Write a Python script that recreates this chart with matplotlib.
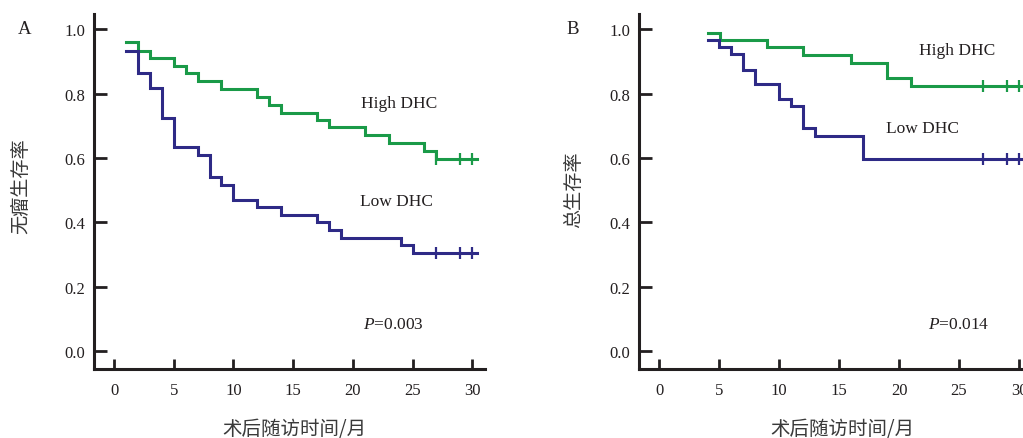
import matplotlib
matplotlib.use("Agg")
import matplotlib.pyplot as plt

plt.rcParams['font.family'] = ['Liberation Serif', 'Noto Sans CJK SC']
plt.rcParams['mathtext.fontset'] = 'custom'
plt.rcParams['mathtext.it'] = 'Liberation Serif:italic'
plt.rcParams['mathtext.rm'] = 'Liberation Serif'

GREEN = '#1a9a48'
BLUE = '#2e2a86'
INK = '#231f20'

# panel A: disease-free survival
a_high_t = [1, 2, 3, 5, 6, 7, 9, 12, 13, 14, 17, 18, 21, 23, 26, 27, 30.4]
a_high_s = [0.959, 0.933, 0.910, 0.886, 0.863, 0.839, 0.814, 0.790, 0.765,
            0.741, 0.718, 0.695, 0.671, 0.646, 0.622, 0.598, 0.598]
a_low_t = [1, 2, 3, 4, 5, 7, 8, 9, 10, 12, 14, 17, 18, 19, 24, 25, 30.4]
a_low_s = [0.933, 0.865, 0.818, 0.723, 0.634, 0.609, 0.542, 0.516, 0.470,
           0.448, 0.422, 0.400, 0.376, 0.352, 0.329, 0.306, 0.306]
a_censor = [27, 29, 30]

# panel B: overall survival
b_high_t = [4.1, 5.1, 9, 12, 16, 19, 21, 31]
b_high_s = [0.988, 0.966, 0.943, 0.920, 0.896, 0.847, 0.824, 0.824]
b_low_t = [4.1, 5, 6, 7, 8, 10, 11, 12, 13, 17, 31]
b_low_s = [0.967, 0.943, 0.922, 0.873, 0.829, 0.783, 0.760, 0.692, 0.667,
           0.598, 0.598]
b_censor = [27, 29, 30]

x_ticks = [0, 5, 10, 15, 20, 25, 30]
y_ticks = [0.0, 0.2, 0.4, 0.6, 0.8, 1.0]


def surv_at(t, times, surv):
    """value of the step curve at time t"""
    val = surv[0]
    for ti, si in zip(times, surv):
        if ti <= t:
            val = si
    return val


def draw_panel(ax, curves, censor, p_text, labels, ylabel, xlim):
    for times, surv, color in curves:
        ax.step(times, surv, where='post', color=color, lw=2.2,
                solid_joinstyle='miter')
        cy = [surv_at(c, times, surv) for c in censor]
        ax.plot(censor, cy, ls='none', marker='|', ms=8, mew=1.6, color=color)

    for txt, x, y in labels:
        ax.text(x, y, txt, ha='center', va='center', fontsize=12.5, color=INK)
    ax.text(p_text[1], p_text[2], p_text[0],
            ha='center', va='center', fontsize=12.5, color=INK)

    ax.set_xlim(*xlim)
    ax.set_ylim(-0.054, 1.047)
    ax.set_xticks(x_ticks)
    ax.set_yticks(y_ticks)
    ax.set_yticklabels([f"{v:.1f}" for v in y_ticks])
    for side in ['top', 'right']:
        ax.spines[side].set_visible(False)
    for side in ['left', 'bottom']:
        ax.spines[side].set_linewidth(2.2)
        ax.spines[side].set_color(INK)
    ax.tick_params(axis='y', direction='in', length=9.5, width=2.0,
                   pad=6.5, labelsize=12, colors=INK)
    ax.tick_params(axis='x', direction='in', length=7, width=2.0,
                   pad=10, labelsize=12, colors=INK)
    ax.set_ylabel(ylabel, family=['Noto Sans CJK SC'], fontsize=13.8,
                  color='#3a3a3a', va='center')
    ax.set_xlabel('术后随访时间/月', family=['Noto Sans CJK SC'],
                  fontsize=14, color='#3a3a3a', va='center')


fig = plt.figure(figsize=(10.23, 4.39), dpi=100)
W, H = 1023, 439
ax_a = fig.add_axes([94 / W, (H - 369.5) / H, 391 / W, 354.5 / H])
ax_b = fig.add_axes([639 / W, (H - 369.5) / H, 384 / W, 354.5 / H])

draw_panel(ax_a,
           [(a_high_t, a_high_s, GREEN), (a_low_t, a_low_s, BLUE)],
           a_censor, ('$P$=0.003', 23.4, 0.084),
           [('High DHC', 23.85, 0.772), ('Low DHC', 23.65, 0.467)],
           '无瘤生存率', (-1.675, 31.07))
draw_panel(ax_b,
           [(b_high_t, b_high_s, GREEN), (b_low_t, b_low_s, BLUE)],
           b_censor, ('$P$=0.014', 24.96, 0.084),
           [('High DHC', 24.8, 0.936), ('Low DHC', 21.96, 0.692)],
           '总生存率', (-1.667, 30.33))

# axis titles placed where the reference has them (pixel positions)
ax_a.yaxis.set_label_coords((21 - 94) / 391, (369.5 - 186) / 354.5)
ax_b.yaxis.set_label_coords((573.5 - 639) / 384, (369.5 - 190) / 354.5)
ax_a.xaxis.set_label_coords((294 - 94) / 391, -(430 - 369.5) / 354.5)
ax_b.xaxis.set_label_coords((842 - 639) / 384, -(430 - 369.5) / 354.5)

fig.text(25 / W, 1 - 29 / H, 'A', ha='center', va='center', fontsize=13.5,
         color=INK)
fig.text(573 / W, 1 - 29 / H, 'B', ha='center', va='center', fontsize=13.5,
         color=INK)

fig.savefig('out.png', dpi=100)
